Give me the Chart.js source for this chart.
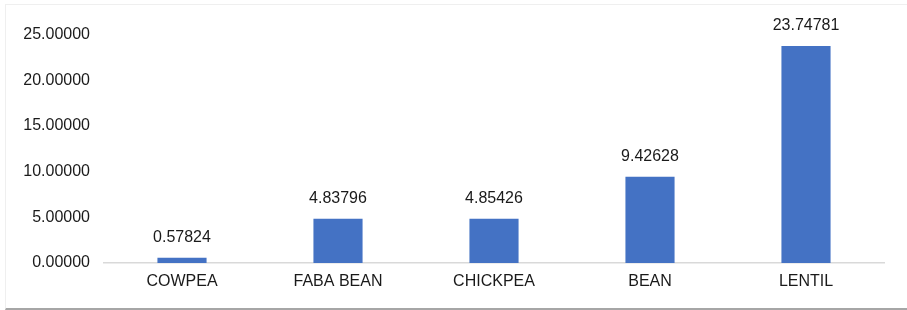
<!DOCTYPE html>
<html>
<head>
<meta charset="utf-8">
<script src="https://cdn.jsdelivr.net/npm/chart.js@4/dist/chart.umd.min.js"></script>
<style>
  html, body { margin: 0; padding: 0; background: #fff; }
  body { width: 907px; height: 310px; position: relative; overflow: hidden; }
  .frame {
    position: absolute; left: 5px; top: 4px; width: 910px; height: 303px;
    border-top: 1px solid #efefef; border-left: 1px solid #efefef;
    border-bottom: 2px solid #a6a6a6;
  }
  canvas { position: absolute; left: 0; top: 0; }
</style>
</head>
<body>
<div class="frame"></div>
<canvas id="chart" width="907" height="310"></canvas>
<script>
const crops = ['COWPEA', 'FABA BEAN', 'CHICKPEA', 'BEAN', 'LENTIL'];
const values = [0.57824, 4.83796, 4.85426, 9.42628, 23.74781];
const yTicks = [0, 5, 10, 15, 20, 25];

const FONT = '"Liberation Sans", Arial, sans-serif';

// draws the value above each bar, Excel style
const valueLabels = {
  id: 'valueLabels',
  afterDatasetsDraw(chart) {
    const ctx = chart.ctx;
    const meta = chart.getDatasetMeta(0);
    ctx.save();
    ctx.font = '16px ' + FONT;
    ctx.fillStyle = '#1a1a1a';
    ctx.textAlign = 'center';
    ctx.textBaseline = 'middle';
    meta.data.forEach((bar, i) => {
      ctx.fillText(values[i].toFixed(5), bar.x, bar.y - 20);
    });
    ctx.restore();
  }
};

new Chart(document.getElementById('chart'), {
  type: 'bar',
  data: {
    labels: crops,
    datasets: [{
      data: values,
      backgroundColor: '#4472C4',
      borderWidth: 0,
      barPercentage: 0.315,
      categoryPercentage: 1,
    }],
  },
  options: {
    responsive: false,
    animation: false,
    layout: { padding: { left: 0, right: 23, top: 34.5, bottom: 0 } },
    plugins: { legend: { display: false }, tooltip: { enabled: false } },
    scales: {
      x: {
        grid: { display: false, drawTicks: false },
        border: { display: true, color: '#d9d9d9', width: 1.5 },
        ticks: { color: '#1a1a1a', font: { family: FONT, size: 16 }, padding: 9 },
        afterFit(s) { s.height = 47; },
      },
      y: {
        min: 0,
        max: 25,
        grid: { display: false, drawTicks: false },
        border: { display: false },
        afterBuildTicks(s) { s.ticks = yTicks.map(v => ({ value: v })); },
        ticks: {
          color: '#1a1a1a',
          font: { family: FONT, size: 16 },
          padding: 14,
          callback: v => Number(v).toFixed(5),
        },
        afterFit(s) { s.width = 104; },
      },
    },
  },
  plugins: [valueLabels],
});
</script>
</body>
</html>
